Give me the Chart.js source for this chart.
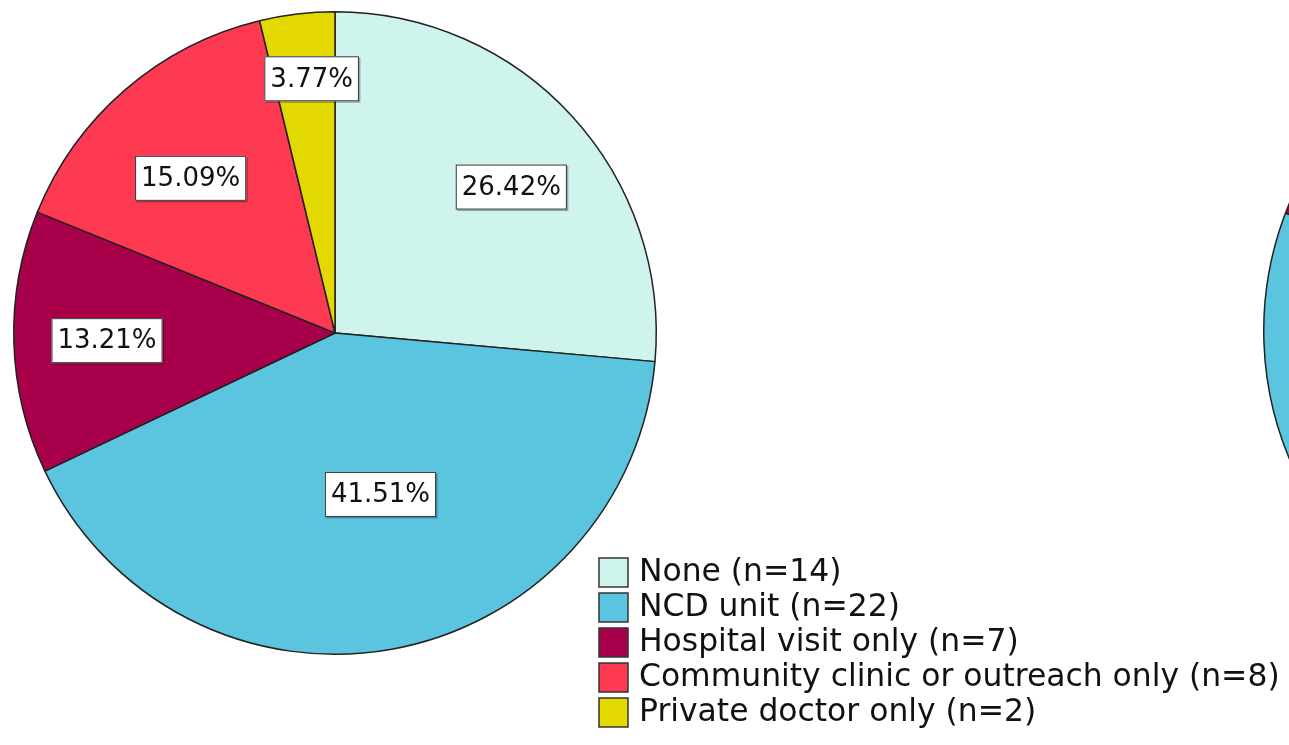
<!DOCTYPE html>
<html>
<head>
<meta charset="utf-8">
<script src="https://cdn.jsdelivr.net/npm/chart.js@4.4.0/dist/chart.umd.min.js"></script>
<style>
  html, body { margin: 0; padding: 0; background: #fff; overflow: hidden; }
  #wrap { position: relative; width: 1289px; height: 745px; overflow: hidden; }
  #pie1 { position: absolute; left: 0; top: 0; }
  #pie2 { position: absolute; left: 1263px; top: -1px; }
</style>
</head>
<body>
<div id="wrap">
  <canvas id="pie1" width="1289" height="745"></canvas>
  <canvas id="pie2" width="664" height="664"></canvas>
</div>
<script>
// categories and counts
const categories = ["None", "NCD unit", "Hospital visit only", "Community clinic or outreach only", "Private doctor only"];
const counts = [14, 22, 7, 8, 2];
const percents = [26.42, 41.51, 13.21, 15.09, 3.77];
const colors = ["#cff4ee", "#5bc5df", "#a8004b", "#fd3a51", "#e3d800"];
// second pie is cut off at the right edge; only the NCD / Hospital boundary shows
const percents2 = [30.0, 50.8, 10.0, 7.0, 2.2];

// label box placement: fraction of radius + small nudge in px
const labelRadius = [0.71, 0.52, 0.71, 0.66, 0.80];
const labelNudge = [[8, 8], [16, -3], [0, 1], [-6, 6], [7, 1]];

const boxLabels = {
  id: 'boxLabels',
  afterDatasetsDraw(chart) {
    const ctx = chart.ctx;
    const meta = chart.getDatasetMeta(0);
    ctx.save();
    ctx.font = '26px "DejaVu Sans", sans-serif';
    ctx.textAlign = 'center';
    ctx.textBaseline = 'middle';
    meta.data.forEach((arc, i) => {
      const mid = (arc.startAngle + arc.endAngle) / 2;
      const r = arc.outerRadius * labelRadius[i];
      const x = arc.x + Math.cos(mid) * r + labelNudge[i][0];
      const y = arc.y + Math.sin(mid) * r + labelNudge[i][1];
      const txt = percents[i].toFixed(2) + '%';
      const w = ctx.measureText(txt).width + 12;
      const h = 45;
      ctx.fillStyle = 'rgba(0,0,0,0.3)';
      ctx.fillRect(x - w / 2 + 1.5, y - h / 2 + 1.5, w, h);
      ctx.fillStyle = '#fff';
      ctx.fillRect(x - w / 2, y - h / 2, w, h);
      ctx.strokeStyle = '#333';
      ctx.lineWidth = 1;
      ctx.strokeRect(x - w / 2 + 0.5, y - h / 2 + 0.5, w - 1, h - 1);
      ctx.fillStyle = '#111';
      ctx.fillText(txt, x, y + 1);
    });
    ctx.restore();
  }
};

const legendBoxes = {
  id: 'legendBoxes',
  afterDraw(chart) {
    const ctx = chart.ctx;
    ctx.save();
    // size the font so the longest entry spans about 640px, like the original
    ctx.font = '26px "DejaVu Sans", sans-serif';
    const longest = Math.max(...categories.map((c, i) => ctx.measureText(c + ' (n=' + counts[i] + ')').width));
    const fs = Math.round(26 * 640 / longest * 10) / 10;
    ctx.font = fs + 'px "DejaVu Sans", sans-serif';
    ctx.textBaseline = 'middle';
    categories.forEach((c, i) => {
      const y = 572 + i * 35;
      ctx.fillStyle = colors[i];
      ctx.fillRect(599, y - 14, 29, 29);
      ctx.strokeStyle = '#333';
      ctx.lineWidth = 1.5;
      ctx.strokeRect(599, y - 14, 29, 29);
      ctx.fillStyle = '#111';
      ctx.fillText(c + ' (n=' + counts[i] + ')', 639, y + 1);
    });
    ctx.restore();
  }
};

new Chart(document.getElementById('pie1'), {
  type: 'pie',
  data: {
    labels: categories,
    datasets: [{
      data: percents,
      backgroundColor: colors,
      borderColor: '#222',
      borderWidth: 1.5
    }]
  },
  options: {
    responsive: false,
    animation: false,
    layout: { padding: { left: 13, top: 11, right: 632, bottom: 90 } },
    plugins: { legend: { display: false }, tooltip: { enabled: false } }
  },
  plugins: [boxLabels, legendBoxes]
});

new Chart(document.getElementById('pie2'), {
  type: 'pie',
  data: {
    labels: categories,
    datasets: [{
      data: percents2,
      backgroundColor: colors,
      borderColor: '#222',
      borderWidth: 1.5
    }]
  },
  options: {
    responsive: false,
    animation: false,
    plugins: { legend: { display: false }, tooltip: { enabled: false } }
  }
});
</script>
</body>
</html>
